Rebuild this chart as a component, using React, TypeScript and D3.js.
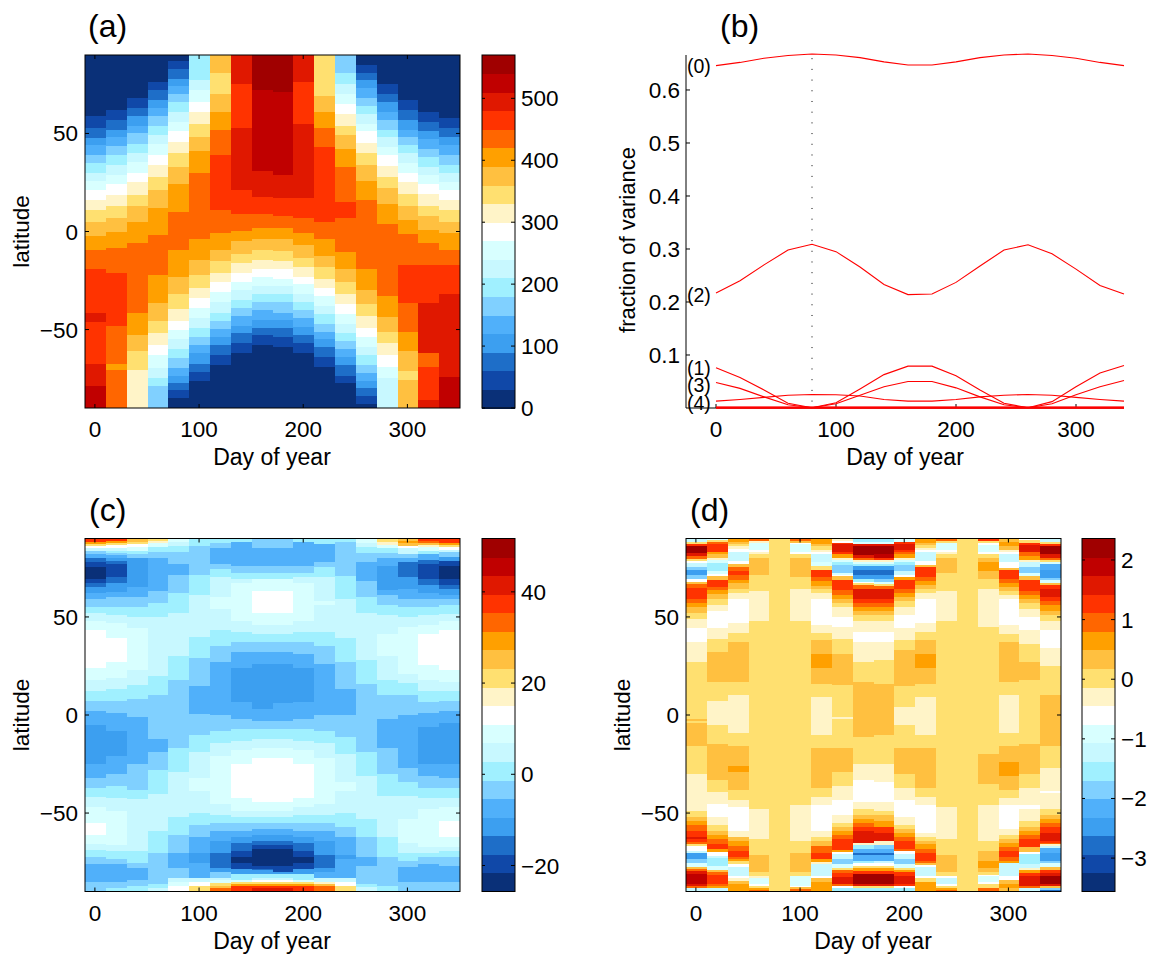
import React from "react";
import * as d3 from "d3";

// colour bands, lowest value first
const palette = ["#0a3078","#1048a8","#1e6ec8","#3c9ff0","#50b0fa","#80d0ff","#a0f0ff","#c8f8ff","#d8ffff","#ffffff","#fff4c8","#ffe070","#ffc040","#ffa000","#ff6600","#ff3300","#e01800","#c00000","#a00000"];
const days = [0,20,40,60,80,100,120,140,160,180,200,220,240,260,280,300,320,340];

// each column, north to south: band, latitude where it ends, band, ... last band runs to -90
const fieldA = [
[0,59,1,53,2,47.5,3,44,4,39,5,35,6,30,7,26,8,21,9,16,10,11,11,5,12,-2.5,13,-9.5,14,-19,15,-41.5,16,-46,15,-67.5,16,-79,17],
[0,62,1,57,2,52,3,48,4,43.5,5,39,6,34,7,29,8,24,9,18.5,10,13,11,7,12,-0.5,13,-8.5,14,-21,15,-48,14,-67.5,13,-70.5,14],
[0,68,1,63,2,59,3,54,4,50,5,44.5,6,40,7,35.5,8,30,9,25,10,18.5,11,13,12,5,13,-6,14,-41.5,13,-53,12,-61,11,-70.5,10],
[0,76,1,72,2,67,3,63,4,59,5,54,6,49,7,44.5,8,39,9,34,10,28,11,21,12,12,13,-2,14,-22,13,-36.5,12,-45.5,11,-52,10,-58,9,-63,8,-69.5,7,-74.5,6,-79,5],
[0,87,1,83,2,78,3,74,4,70,5,66,6,61,7,56,8,51,9,45.5,10,40,11,33,12,24,13,10,14,-9.5,13,-23,12,-32,11,-39.5,10,-45.5,9,-50,8,-55,7,-60,6,-64.5,5,-69.5,4,-73.5,3,-77,2,-81,1,-85,0],
[6,77,7,72,8,66,9,61,10,55,11,48,12,41,13,30,14,-4,13,-14.5,12,-22,11,-29,10,-34,9,-39,8,-44,7,-49,6,-54,5,-58,4,-62,3,-67.5,2,-71.5,1,-76,0],
[12,81,11,70,12,61,13,52,14,39,15,11,14,-1,13,-9.5,12,-15,11,-21,10,-26,9,-31,8,-36,7,-41.5,6,-45.5,5,-49.5,4,-54,3,-58,2,-63,1,-68,0],
[16,75,15,53,16,21,15,9,14,0.5,13,-5,12,-11.5,11,-16,10,-21,9,-26,8,-30,7,-35,6,-39,5,-43,4,-48,3,-52,2,-57,1,-62,0],
[18,72,17,31,16,17.5,15,9,14,2,13,-4,12,-9.5,11,-14.5,10,-19,9,-23,8,-28,7,-32,6,-36,5,-40,4,-45,3,-49,2,-53,1,-58,0],
[18,71,17,29,16,17,15,8,14,2,13,-4,12,-10,11,-15,10,-19,9,-24,8,-28,7,-32,6,-36,5,-41.5,4,-45,3,-49,2,-54,1,-59,0],
[16,76,15,55,16,17,15,7,14,-1,13,-7,12,-13.5,11,-18,10,-23,9,-27,8,-32,7,-36,6,-40,5,-44,4,-48.5,3,-53,2,-57,1,-62,0],
[11,69,12,61,13,53,14,43,15,5,14,-4,13,-12.5,12,-18,11,-24,10,-29,9,-33,8,-38,7,-42,6,-47,5,-51,4,-55,3,-59,2,-64,1,-69,0],
[5,81,6,75,7,70,8,65,9,60,10,54,11,49,12,42,13,33,14,15,15,7,14,-10.5,13,-19,12,-26,11,-32,10,-37,9,-42,8,-47,7,-52,6,-56,5,-60,4,-64,3,-68,2,-73.5,1,-77,0],
[0,85,1,81,2,77,3,73,4,68,5,64,6,60,7,55,8,51,9,45,10,40,11,34,12,26,13,16,14,-19,13,-30,12,-37,11,-43,10,-49,9,-54,8,-59,7,-63,6,-68,5,-72,4,-76,3,-80,2,-84,1,-88,0],
[0,75,1,70,2,66,3,61,4,57,5,52,6,48,7,43,8,39,9,33.5,10,28,11,22,12,14,13,4,14,-33,13,-43.5,12,-51,11,-57,10,-63,9,-69,8,-74.5,7],
[0,67,1,62,2,57,3,52,4,48,5,44,6,40,7,35,8,30,9,25,10,19,11,13,12,6,13,-1.5,14,-17,15,-36.5,14,-51,13,-61,12,-71,11,-75.5,12],
[0,61,1,56,2,51,3,47,4,42,5,38,6,33,7,29,8,24,9,19,10,13,11,8,12,1,13,-6,14,-17,15,-36.5,16,-62,14,-69,15,-86,16],
[0,58,1,53,2,48,3,44,4,39,5,34,6,30,7,25,8,21,9,16,10,11,11,5,12,-1,13,-9.5,14,-17,15,-32,16,-74,17],
];

const fieldC = [
[15,88.3,13,87.2,11,86.2,9,85.2,7,83.7,5,82.1,4,80.1,2,78,1,75.7,0,69.4,1,67.3,2,65.3,3,62.2,4,59.2,5,55.1,6,52,7,48,8,43.4,9,24,8,17.9,7,12.2,6,7.1,5,2,4,-5,3,-25,4,-32,5,-37,6,-42,7,-47,8,-55,9,-61,8,-66,7,-69,6,-72.4,5,-76,4,-85,5],
[15,88.5,13,87.5,11,86.5,9,85,7,83.5,6,82.5,5,81.5,4,80,3,78.5,2,77,1,70.4,2,67.3,3,62.8,4,60.2,5,55.1,6,51,7,47,8,39.3,9,27,8,18.9,7,13.3,6,7,5,1,4,-8.2,3,-21,4,-30,5,-36.2,6,-42.3,7,-49,8,-66.3,7,-69.4,6,-73.5,5,-76,4,-85,5,-88.3,6],
[12,88,11,87,9,85.7,8,83.7,6,82,5,80,3,65.3,4,60.2,5,55,6,50,7,44.4,8,23,7,15.3,6,8,5,-1,4,-25,5,-38,6,-43,7,-69.4,6,-75.5,5,-78,4,-84,5,-87,6],
[11,88.8,10,87.8,8,85.7,6,83.2,5,80,4,63.3,5,57,6,50,7,20,6,10,5,-12,4,-19,5,-28,6,-40.3,7,-59,6,-70.4,5,-86,6,-88.3,7],
[8,88,7,86,6,83,5,77,4,71.4,5,62,6,52,7,30,6,18,5,-17,6,-29,7,-52,6,-61,5,-70.4,4,-78,5,-83,7,-85,8,-87,9],
[6,86,5,71.4,6,61,7,40,6,29,5,15,4,0.5,5,-10,6,-19,7,-32,8,-39,7,-50,6,-56,5,-62,4,-70.4,3,-75.5,4,-83,7,-85,9,-87,11],
[6,87.8,5,85,4,77,5,74.5,6,70.4,7,60,8,54,7,43.4,6,35.2,5,27,4,0,5,-8.2,6,-14.3,7,-21,8,-45.4,7,-51,6,-55,5,-59,4,-64.3,3,-70.4,2,-78,3,-80,5,-83,7,-84,8,-85.8,11,-87,12,-88.3,14],
[6,88,4,76,5,72.4,6,69.4,7,67.3,8,48,7,42.3,6,37.2,5,32,4,24,3,6.6,4,-2,5,-7,6,-13.3,7,-18,8,-25,9,-42.3,8,-49,7,-52,6,-55,5,-59,4,-62,3,-65.3,2,-69.4,1,-72.4,0,-75.5,1,-78.6,3,-81,6,-84,8,-85,11,-86,13,-87,15],
[5,85,4,76,5,72.4,6,69.4,8,63.3,9,52,8,46,7,41.3,6,37.2,5,32,4,26,3,3,4,-3,5,-7,6,-12.2,7,-17,8,-22,9,-44.4,8,-49,7,-52,6,-55,5,-58,4,-61,3,-64.3,2,-66.3,1,-68.4,0,-77,1,-78.6,2,-79,3,-81,6,-83,7,-84,9,-85,11,-86,13,-87,15,-88.3,16],
[5,85,4,76,5,72.4,6,69.4,8,63.3,9,52,8,46,7,41.3,6,37.2,5,32,4,26,3,6,4,-3,5,-7,6,-12.2,7,-17,8,-22,9,-44.4,8,-49,7,-52,6,-55,5,-58,4,-61,3,-64.3,2,-66.3,1,-68.4,0,-77,1,-80,3,-81,6,-83,7,-84,9,-85,11,-86,13,-87,15,-88.3,16],
[6,88,4,76,5,72.4,6,70.4,7,67.3,8,48,7,42.3,6,37.2,5,31,4,24,3,6.6,4,-2,5,-7,6,-13.3,7,-18,8,-25,9,-42.3,8,-47,7,-51,6,-55,5,-59,4,-62,3,-65.3,2,-69.4,1,-72.4,0,-75.5,1,-78.6,3,-81,6,-84,8,-85,11,-86,13,-87,15],
[6,87.2,4,78,5,75.5,6,70.4,7,58,8,56,7,42.3,6,35.2,5,26,4,0,5,-8.2,6,-14.3,7,-22,8,-45.4,7,-51,6,-55,5,-59,4,-64.3,3,-71.4,2,-78,3,-80,4,-83,7,-85,10,-86,12,-87,14],
[6,88,5,71,6,59,7,39.3,6,27,5,13.3,4,0,5,-11.2,6,-20,7,-34,8,-39,7,-50,6,-57,5,-62,4,-71.4,3,-73.5,4,-83,7,-85,9,-87,11],
[8,87.8,7,85.7,6,82.7,5,78,4,68.4,5,60,6,52,7,28,6,15.8,5,-19,6,-31,7,-53,6,-62,5,-72.4,4,-77,5,-86,6,-87.6,7],
[11,88,10,86.7,8,85,6,82.7,5,80,4,76,3,63.8,4,61.2,5,56,6,51,7,41.3,8,30,7,18,6,10,5,-2,4,-17,5,-30,6,-41.3,7,-62,6,-72.4,5,-87,6],
[12,88.8,13,87.8,12,86.2,9,85,7,82,5,80,4,78,2,70.4,3,64.3,4,59,5,55,6,50,7,45,8,21,7,16.3,6,10,5,0,4,-27,5,-34,6,-41.3,7,-53,8,-65.3,7,-70.4,6,-74.5,5,-77.6,4,-85,5],
[15,88.8,14,87.8,12,86.7,10,85.7,8,83.7,6,82,4,79,2,77,1,69.4,2,66.3,3,62.2,4,59,5,55,6,51,7,46,8,41.3,9,25.5,8,17.9,7,12,6,6.6,5,1,4,-6,3,-25,4,-31,5,-37,6,-42.3,7,-48,8,-67.3,7,-70.4,6,-72.4,5,-76,4,-85,5],
[15,87.8,13,86.7,11,85.7,9,84.2,7,83.2,5,80.6,3,78.6,1,76,0,69.4,1,66.3,2,64.3,3,61.2,4,59,5,56,6,51.5,7,48,8,43.4,9,23,8,16.8,7,12.2,6,7,5,2,4,-4,3,-25,4,-32,5,-37,6,-42.3,7,-47,8,-54,9,-62.2,8,-67.3,7,-69.4,6,-72.4,5,-77,4,-85,5],
];

const fieldD = [
[7,88,11,87,15,86,18,82.5,16,81,14,79.5,11,78.5,9,77.5,7,75.5,5,74,3,71.5,5,69.5,9,68,12,66.8,14,65,15,59,14,57,13,55,12,52,11,49,10,44.5,9,37,10,27,11,-2,12,-3,11,-4,12,-16,11,-30,10,-49,11,-52,12,-54,13,-56,14,-59,15,-62,16,-63,15,-65,14,-66,11,-67,9,-69.5,7,-70.5,3,-73.5,5,-75.5,8,-77.5,12,-78.5,14,-79.5,16,-81,17,-86,16,-87,14,-88,7],
[8,89,11,88,14,87,15,83,13,82,12,80,10,79,8,77.5,6,73.5,8,72,9,71,12,69,15,65.5,14,63.5,13,61.5,12,59,11,56,10,53,9,44.5,10,38.5,11,32,12,17,11,7,10,-5,11,-15,12,-33,11,-39.5,10,-45.5,9,-52,10,-56,11,-59,12,-61,13,-63,14,-66,15,-68.5,13,-70,9,-72,7,-73,6,-77,8,-79,12,-80,14,-81.5,15,-86,14,-87,13,-88,7],
[13,88,12,87,11,86,10,84.5,9,83,7,78.5,9,77,12,75.5,14,73.5,15,71.5,14,69,13,67.5,12,64.5,11,62,10,59,9,47,10,42,11,37,12,17,11,10,10,-9,11,-16,12,-26,13,-29,12,-38,11,-43.5,10,-47,9,-59,10,-62,12,-64,13,-67,14,-69.5,15,-72.5,14,-73.5,13,-74.5,11,-76,9,-77.5,7,-82,9,-83,10,-84.5,12,-86,13],
[14,88.8,10,87.8,8,84,9,83,10,82,11,80,12,71.5,11,63,10,48,11,-48,10,-63,11,-71.5,12,-80,11,-82,10,-83,8,-86,9,-87,11,-88,13,-89,14],
[11],
[14,88.8,12,87.8,9,87,8,83,9,82,11,80,12,70.5,11,64.5,10,48,11,-46,10,-64,11,-70.5,12,-80,11,-82,8,-87,9,-87.5,12,-88.5,14],
[13,87.2,12,86,11,84,10,83,9,82,7,78,8,76,11,74,15,70.5,14,68.5,13,66,12,64.5,11,62,10,59,9,46,10,42,11,38,12,31,13,24,12,16,11,9,10,-10,11,-17,12,-37,11,-42,10,-46,9,-59,10,-62,11,-64,12,-67,14,-70.5,15,-73.5,13,-75,10,-76,7,-82,9,-83,12,-85,13],
[10,88.8,9,87.8,15,87,16,83,15,82,13,80,10,79,8,78,6,76.5,5,72.5,8,71.5,9,71,12,69,15,63.5,14,61,13,59,12,57,11,55,10,50,9,45,10,38.5,11,31,12,15.5,11,-1,10,-2,11,-17,12,-29,11,-36,10,-43.5,9,-51,10,-55,11,-57,12,-59,13,-61,14,-63,15,-69,13,-70,9,-71,7,-73.5,5,-76,8,-78,11,-79,14,-80.5,15,-82.5,16,-86,14,-87,9,-88,6],
[6,88.3,8,87.2,16,86.2,18,81.6,16,80,14,79,10,78,8,77,6,76,3,74,2,71.4,3,69.4,6,68,9,67.3,11,66.3,14,64.3,16,59.2,15,57,14,55,13,53,12,51,11,48,10,42.3,9,37.2,10,27,11,17,12,-11,11,-25,10,-33,9,-44.4,10,-48,11,-51,12,-53,13,-55,14,-57,15,-59,16,-65.3,10,-66.3,6,-68.4,4,-70.4,2,-71.4,4,-74.5,6,-75.5,9,-77,11,-78,13,-79.6,15,-81,18,-86,16,-87,11,-88,6],
[6,88.3,8,87.2,16,86.2,18,82,17,80,15,79,10,78,8,77,6,76,3,74,2,71.4,3,69.4,5,67.9,8,67,11,66,14,64.3,16,59.2,15,57,14,55,13,53,12,51,11,48,10,42.3,9,37.2,10,28,11,16,12,-10,11,-25,10,-34,9,-44.4,10,-49,11,-51,12,-54,13,-57,15,-60,16,-64,10,-66.3,5,-68.4,4,-70.4,2,-71.4,4,-74.5,7,-75.5,9,-77,11,-78,13,-79.6,15,-81,18,-86,16,-87,11,-88,6],
[8,88.3,15,87.2,16,84.2,15,83.2,14,82,13,80,10,79,8,78,6,76.5,5,73.5,7,71.5,9,70.5,13,69,15,64.3,14,62,13,60,12,58,11,55,10,51,9,44.4,10,38.3,11,33,12,15,11,4,10,-5,11,-17,12,-30,11,-37,10,-43.4,9,-52,10,-56,11,-58,12,-60,13,-62,14,-64,15,-68.4,14,-69.4,9,-71,7,-73.5,5,-76,8,-78,11,-79,13,-80,15,-82,16,-86,15,-87,9,-88,6],
[13,87.8,12,86.7,11,85,10,84,9,83,7,78.5,9,76.5,12,75.5,15,70.5,14,68.4,13,66.3,12,64.3,11,62,10,59,9,47,10,42.3,11,38.3,12,31,13,24,12,16,11,9,10,-10,11,-17,12,-37,11,-42,10,-46,9,-60,10,-62,11,-64,12,-66,13,-68.4,14,-70.4,15,-74.5,14,-75.5,12,-76.5,9,-77.6,7,-82,9,-83,11,-85,13],
[14,88.8,11,87.8,8,84,9,83,10,82,11,80,12,72.4,11,63.3,10,48,11,-47,10,-63,11,-71.5,12,-80,11,-82,9,-83,7,-86,9,-87,11,-88,13,-89,14],
[11],
[15,88.8,11,87.8,9,86.7,8,83,9,82,11,80,12,78,13,73.5,12,69.4,11,64.3,10,45,11,-20,12,-35,11,-46,10,-64,11,-69.4,12,-74.5,13,-78,12,-80,11,-81.6,9,-82,8,-85,9,-86,11,-88,14],
[12,88.3,13,86.2,12,84.2,10,83,9,82,7,78,9,75,12,74,15,69.4,14,67.3,13,65.3,12,63.3,11,61.2,10,59,9,46,10,41.3,11,37.2,12,17,11,10,10,-9,11,-16,12,-24,13,-31,12,-38.3,11,-42.3,10,-46,9,-58,10,-61,11,-63,12,-65.3,13,-67.3,14,-69.4,15,-72.4,14,-74.5,13,-75.5,7,-82,9,-84,12,-86,13,-88,12],
[9,89.3,11,87.8,15,86.7,16,83.2,14,81,13,79,10,78,7,75.5,5,72.4,8,71,12,69,15,63.3,14,61,13,59,12,57,11,54,10,50,9,43.4,10,36,11,27,12,17.9,11,-15,12,-30,11,-37,10,-46,9,-48,10,-54,11,-57,12,-59,13,-61,14,-63,15,-67.3,12,-70,9,-71,6,-76,7,-78,10,-79,13,-80.6,15,-82,16,-87,14,-88,7],
[7,88.3,11,87.2,15,86.2,18,82,16,80,14,79,11,78,8,77,4,74,3,70,5,69,8,67.3,12,66.3,15,64.3,16,60,15,58,14,56,13,53,12,51,11,48,10,43.4,9,34,10,25,11,10,12,-16,11,-27,10,-39,9,-40,10,-48,11,-51,12,-53,13,-55,14,-57,15,-60,16,-64,15,-65.3,14,-66,10,-67,7,-68,4,-70.4,3,-74.5,5,-75.5,8,-77.6,12,-79,15,-80.6,16,-82,18,-86,16,-87,12,-88.3,5,-89,2],
];

// panel (b)
const var0 = [.646,.652,.660,.665,.668,.666,.661,.653,.647,.647,.653,.661,.666,.668,.665,.660,.652,.646];
const var2 = [.217,.240,.270,.298,.309,.295,.266,.233,.214,.215,.237,.268,.298,.308,.291,.262,.231,.215];
const var1 = [.076,.0575,.034,.009,.0005,.01,.036,.063,.079,.079,.061,.034,.009,.0005,.012,.04,.066,.08];
const var3 = [.048,.037,.021,.006,.0005,.008,.024,.04,.05,.05,.038,.021,.006,.0005,.008,.025,.04,.052];
const varF = [.013,.016,.02,.024,.0256,.025,.0225,.016,.013,.013,.016,.021,.024,.0256,.024,.02,.016,.013];
const var4 = [.001,.001,.001,.001,.001,.001,.001,.001,.001,.001,.001,.001,.001,.001,.001,.001,.001,.001];
const var5 = [.0005,.0005,.0005,.0005,.0005,.0005,.0005,.0005,.0005,.0005,.0005,.0005,.0005,.0005,.0005,.0005,.0005,.0005];
const lineSeries = [var0,var2,var1,var3,varF,var4,var5];
const lineLabels = [["(0)",.645],["(2)",.213],["(1)",.075],["(3)",.043],["(4)",.009]] as [string,number][];

const FONT = "'Liberation Sans', Arial, Helvetica, sans-serif";
const TICK = 22.5;
const TITLE = 32;
const fmt = (v: number) => (v < 0 ? "\u2212" + Math.abs(v) : String(v));

function Heat({ field, left, top, clim, cbTicks, cbLeft, title, titleX }: any) {
  const width = 375, height = 353;
  const x = d3.scaleLinear().domain([-9.5, 350.5]).range([left, left + width]);
  const y = d3.scaleLinear().domain([90, -90]).range([top, top + height]);
  const color = d3.scaleQuantize<string>().domain([0, palette.length]).range(palette);
  const cbY = d3.scaleLinear().domain(clim).range([top + height, top]);
  const bandStep = (clim[1] - clim[0]) / palette.length;
  const cbW = 33;
  const rects: React.ReactNode[] = [];
  field.forEach((col: number[], j: number) => {
    let upper = 90;
    for (let i = 0; i < col.length; i += 2) {
      const lower = i + 1 < col.length ? col[i + 1] : -90;
      rects.push(
        <rect key={j + "-" + i} x={x(days[j] - 9.5)} width={x(days[j] + 10.5) - x(days[j] - 9.5)} y={y(upper)} height={y(lower) - y(upper)} fill={color(col[i] + 0.5)} shapeRendering="crispEdges" />
      );
      upper = lower;
    }
  });
  return (
    <g fontFamily={FONT} fontSize={TICK} fill="#000">
      {rects}
      <rect x={left} y={top} width={width} height={height} fill="none" stroke="#000" strokeWidth={1} />
      {[0, 100, 200, 300].map((t) => (
        <g key={t}>
          <line x1={x(t)} x2={x(t)} y1={top} y2={top + 4} stroke="#000" />
          <line x1={x(t)} x2={x(t)} y1={top + height} y2={top + height - 4} stroke="#000" />
          <text x={x(t)} y={top + height + 29} textAnchor="middle">{t}</text>
        </g>
      ))}
      {[-50, 0, 50].map((t) => (
        <g key={t}>
          <line x1={left} x2={left + 4} y1={y(t)} y2={y(t)} stroke="#000" />
          <line x1={left + width} x2={left + width - 4} y1={y(t)} y2={y(t)} stroke="#000" />
          <text x={left - 7} y={y(t) + 8} textAnchor="end">{fmt(t)}</text>
        </g>
      ))}
      <text x={left + width / 2 - 0.5} y={top + height + 57} fontSize={23} textAnchor="middle">Day of year</text>
      <text transform={`translate(${left - 56},${top + height / 2}) rotate(-90)`} textAnchor="middle">latitude</text>
      <text x={titleX} y={top - 18} fontSize={TITLE}>{title}</text>
      {palette.map((c, k) => (
        <rect key={c} x={cbLeft} width={cbW} y={cbY(clim[0] + (k + 1) * bandStep)} height={height / palette.length + 0.5} fill={c} shapeRendering="crispEdges" />
      ))}
      <rect x={cbLeft} y={top} width={cbW} height={height} fill="none" stroke="#000" />
      {cbTicks.map((t: number) => (
        <g key={t}>
          <line x1={cbLeft} x2={cbLeft + 3} y1={cbY(t)} y2={cbY(t)} stroke="#000" />
          <line x1={cbLeft + cbW} x2={cbLeft + cbW - 4} y1={cbY(t)} y2={cbY(t)} stroke="#000" />
          <text x={cbLeft + cbW + 6} y={cbY(t) + 8}>{fmt(t)}</text>
        </g>
      ))}
    </g>
  );
}

function Lines() {
  const x = d3.scaleLinear().domain([-25, 340]).range([686, 1124]);
  const y = d3.scaleLinear().domain([0, 0.666]).range([408, 55]);
  const line = d3.line<number>().x((_, i) => x(days[i])).y((d) => y(d));
  return (
    <g fontFamily={FONT} fontSize={TICK} fill="#000">
      <line x1={686} x2={686} y1={55} y2={408} stroke="#000" />
      <line x1={686} x2={1124} y1={408} y2={408} stroke="#000" />
      {[0.1, 0.2, 0.3, 0.4, 0.5, 0.6].map((t) => (
        <g key={t}>
          <line x1={686} x2={690} y1={y(t)} y2={y(t)} stroke="#000" />
          <text x={680} y={y(t) + 8} textAnchor="end">{t.toFixed(1)}</text>
        </g>
      ))}
      {[0, 100, 200, 300].map((t) => (
        <g key={t}>
          <line x1={x(t)} x2={x(t)} y1={408} y2={404} stroke="#000" />
          <text x={x(t)} y={437} textAnchor="middle">{t}</text>
        </g>
      ))}
      <line x1={x(80)} x2={x(80)} y1={y(0.66)} y2={y(0.01)} stroke="#000" strokeWidth={1} strokeDasharray="1 9.7" />
      {lineSeries.map((s, i) => (
        <path key={i} d={line(s) as string} fill="none" stroke="#f00" strokeWidth={i >= 5 ? 2 : 1.1} />
      ))}
      <text x={905} y={465} fontSize={23} textAnchor="middle">Day of year</text>
      <text transform="translate(635,240) rotate(-90)" fontSize={22} textAnchor="middle">fraction of variance</text>
      <text x={720} y={37} fontSize={TITLE}>(b)</text>
      {lineLabels.map(([s, v]) => (
        <text key={s} x={687} y={y(v) + 7} fontSize={19.5}>{s}</text>
      ))}
    </g>
  );
}

export default function App() {
  return (
    <svg width={1156} height={957} style={{ position: "absolute", left: 0, top: 0, background: "#fff" }}>
      <Heat field={fieldA} left={85} top={55} clim={[0, 570]} cbTicks={[0,100,200,300,400,500]} cbLeft={482} title="(a)" titleX={88} />
      <Lines />
      <Heat field={fieldC} left={85} top={538.5} clim={[-25.7, 51.7]} cbTicks={[-20,0,20,40]} cbLeft={482} title="(c)" titleX={89} />
      <Heat field={fieldD} left={686} top={538.5} clim={[-3.56, 2.36]} cbTicks={[-3,-2,-1,0,1,2]} cbLeft={1082} title="(d)" titleX={690} />
    </svg>
  );
}
